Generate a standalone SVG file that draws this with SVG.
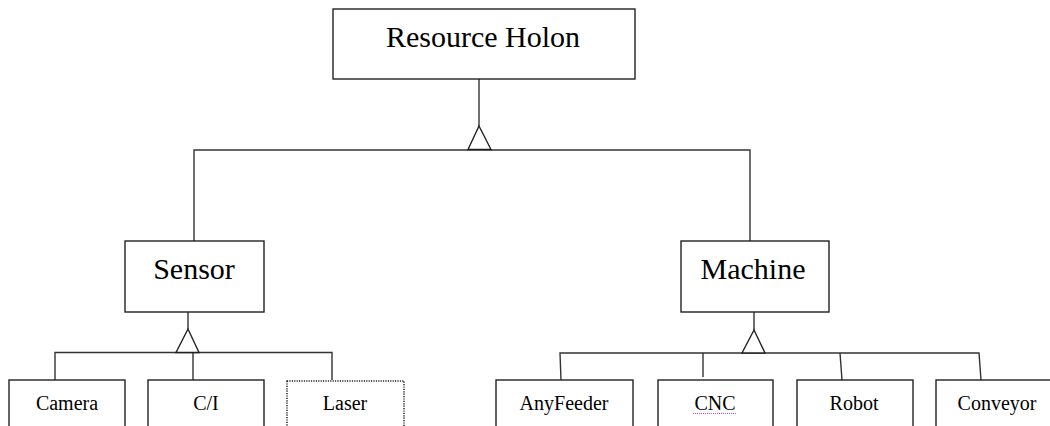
<svg xmlns="http://www.w3.org/2000/svg" width="1050" height="426" viewBox="0 0 1050 426">
<style>
.box{fill:#fff;stroke:#222;stroke-width:1.4}
.dot{fill:#fff;stroke:#222;stroke-width:1.5;stroke-dasharray:1.2 1.2}
.ln{fill:none;stroke:#333;stroke-width:1.4}
.tri{fill:#fff;stroke:#222;stroke-width:1.4;stroke-linejoin:miter}
.big{font-family:"Liberation Serif","Times New Roman",serif;font-size:30px;fill:#000;text-anchor:middle}
.sm{font-family:"Liberation Serif","Times New Roman",serif;font-size:20px;fill:#000;text-anchor:middle}
</style>
<rect width="1050" height="426" fill="#fff"/>
<g id="connectors">
<path class="ln" d="M479 79V126"/>
<path class="ln" d="M194 241V150H750V241"/>
<polygon class="tri" points="479,126 468,149.5 491,149.5"/>
<path class="ln" d="M188 312V329"/>
<path class="ln" d="M55 380V352.5H332V380"/>
<path class="ln" d="M193 352.5V380"/>
<polygon class="tri" points="188,329 176,352.5 199,352.5"/>
<path class="ln" d="M754 312V330"/>
<path class="ln" d="M561 380L560 353H979L981 380"/>
<path class="ln" d="M703 353V377"/>
<path class="ln" d="M840 353L842 380"/>
<polygon class="tri" points="754,330 742,353 765,353"/>
</g>
<g id="resource-holon">
<rect class="box" x="333" y="9" width="302" height="70"/>
<text class="big" x="483" y="47">Resource Holon</text>
</g>
<g id="sensor">
<rect class="box" x="125" y="241" width="139" height="71"/>
<text class="big" x="194" y="279">Sensor</text>
</g>
<g id="machine">
<rect class="box" x="681" y="241" width="148" height="71"/>
<text class="big" x="753" y="279">Machine</text>
</g>
<g id="camera">
<rect class="box" x="9" y="380" width="116" height="60"/>
<text class="sm" x="67" y="410">Camera</text>
</g>
<g id="ci">
<rect class="box" x="148" y="380" width="116" height="60"/>
<text class="sm" x="206" y="410">C/I</text>
</g>
<g id="laser">
<rect class="dot" x="287" y="381" width="117" height="60"/>
<text class="sm" x="345" y="410">Laser</text>
</g>
<g id="anyfeeder">
<rect class="box" x="496" y="380" width="137" height="60"/>
<text class="sm" x="564" y="410">AnyFeeder</text>
</g>
<g id="cnc">
<rect class="box" x="658" y="380" width="115" height="60"/>
<text class="sm" x="715" y="410">CNC</text>
<path d="M693 413.5H737" stroke="#e040e0" stroke-width="1.2" stroke-dasharray="1 1" fill="none"/>
</g>
<g id="robot">
<rect class="box" x="797" y="380" width="116" height="60"/>
<text class="sm" x="854" y="410">Robot</text>
</g>
<g id="conveyor">
<rect class="box" x="936" y="380" width="122" height="60"/>
<text class="sm" x="997" y="410">Conveyor</text>
</g>
</svg>
